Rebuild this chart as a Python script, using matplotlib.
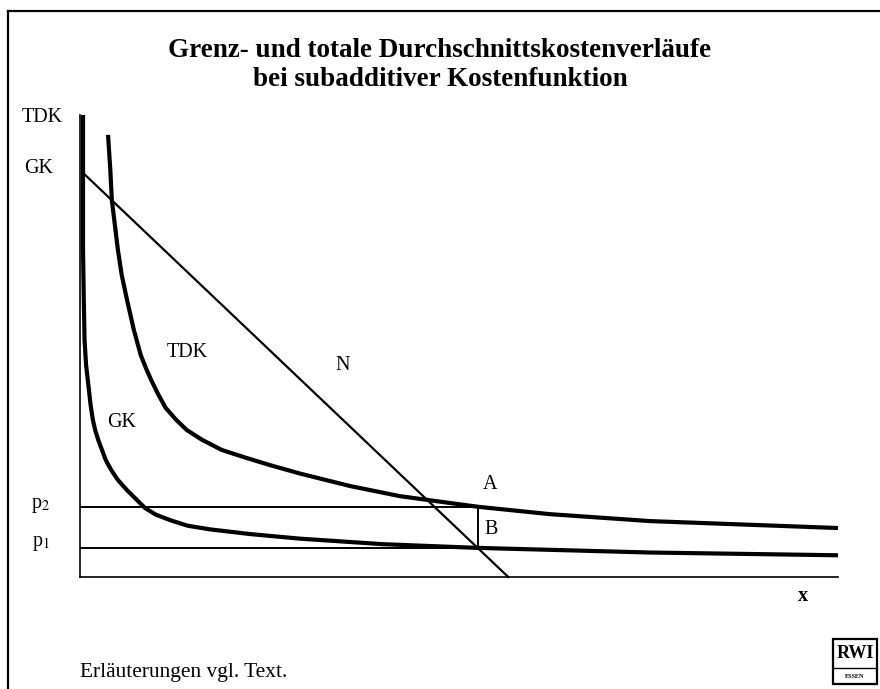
import matplotlib
matplotlib.use("Agg")
from matplotlib import pyplot as plt
from matplotlib.lines import Line2D
from matplotlib.patches import Rectangle

plt.rcParams['font.family'] = ['Liberation Serif', 'DejaVu Serif']
plt.rcParams['mathtext.fontset'] = 'stix'

# Grenzkosten GK (Menge x, Kosten), Achsen jeweils 0..10
gk_x = [0.04, 0.04, 0.05, 0.06, 0.08, 0.11, 0.14, 0.17, 0.20, 0.24, 0.29,
        0.34, 0.41, 0.50, 0.62, 0.86, 1.00, 1.19, 1.42, 1.72, 2.24, 2.90,
        4.00, 5.25, 7.52, 10.0]
gk_y = [10.0, 7.08, 6.00, 5.13, 4.59, 4.16, 3.72, 3.40, 3.18, 2.97, 2.75,
        2.53, 2.32, 2.10, 1.88, 1.49, 1.35, 1.23, 1.11, 1.03, 0.93, 0.83,
        0.71, 0.63, 0.53, 0.47]

# totale Durchschnittskosten TDK
tdk_x = [0.37, 0.40, 0.42, 0.46, 0.50, 0.55, 0.62, 0.71, 0.80, 0.87, 0.94,
         1.03, 1.13, 1.27, 1.41, 1.61, 1.87, 2.19, 2.51, 2.90, 3.56, 4.22,
         4.62, 5.25, 6.20, 7.52, 10.0]
tdk_y = [9.57, 8.81, 8.16, 7.62, 7.08, 6.54, 6.00, 5.35, 4.81, 4.52, 4.26,
         3.96, 3.66, 3.40, 3.18, 2.97, 2.75, 2.58, 2.42, 2.24, 1.97, 1.75,
         1.66, 1.52, 1.36, 1.21, 1.06]

# Nachfragegerade N
n_x = [0.07, 5.65]
n_y = [8.70, 0.0]

# Menge im Punkt A/B und die Preise p1, p2
x_b = 5.25
p1 = 0.63
p2 = 1.52

W, H = 880, 689
fig = plt.figure(figsize=(W / 100, H / 100), dpi=100)
ax = fig.add_axes([80 / W, 1 - 577 / H, 758 / W, 462 / H])
ax.set_xlim(0, 10)
ax.set_ylim(0, 10)
ax.axis('off')

# Achsen
ax.plot([0, 0], [0, 10], color='black', lw=1.2, clip_on=False)
ax.plot([0, 10], [0, 0], color='black', lw=1.2, clip_on=False)

# Preislinien und Strecke AB
ax.plot([0, x_b], [p2, p2], color='black', lw=1.4)
ax.plot([0, x_b], [p1, p1], color='black', lw=1.4)
ax.plot([x_b, x_b], [p1, p2], color='black', lw=1.4)

ax.plot(n_x, n_y, color='black', lw=1.6, clip_on=False)
ax.plot(tdk_x, tdk_y, color='black', lw=3.0, solid_capstyle='butt',
        solid_joinstyle='round', clip_on=False)
ax.plot(gk_x, gk_y, color='black', lw=3.0, solid_capstyle='butt',
        solid_joinstyle='round', clip_on=False)

fs = 14.5
ax.text(-0.50, 9.94, 'TDK', fontsize=fs, ha='center', va='center')
ax.text(-0.55, 8.85, 'GK', fontsize=fs, ha='center', va='center')
ax.text(-0.52, p2 + 0.02, r'p$_2$', fontsize=fs, ha='center', va='center')
ax.text(-0.52, p1 + 0.1, r'p$_1$', fontsize=fs, ha='center', va='center')
ax.text(1.41, 4.87, 'TDK', fontsize=fs, ha='center', va='center')
ax.text(0.55, 3.35, 'GK', fontsize=fs, ha='center', va='center')
ax.text(3.46, 4.57, 'N', fontsize=fs, ha='center', va='center')
ax.text(5.41, 2.01, 'A', fontsize=fs, ha='center', va='center')
ax.text(5.42, 1.02, 'B', fontsize=fs, ha='center', va='center')
ax.text(9.54, -0.41, 'x', fontsize=fs, ha='center', va='center', weight='bold')

# Titel
fig.text(0.5, 1 - 57 / H, 'Grenz- und totale Durchschnittskostenverläufe',
         fontsize=19.5, weight='bold', ha='center', va='baseline')
fig.text(0.5, 1 - 86 / H, 'bei subadditiver Kostenfunktion',
         fontsize=19.5, weight='bold', ha='center', va='baseline')

fig.text(80 / W, 1 - 677 / H, 'Erläuterungen vgl. Text.', fontsize=15.4,
         ha='left', va='baseline')

# Rahmen
fig.add_artist(Line2D([8 / W, 1.0], [1 - 11 / H, 1 - 11 / H], color='black', lw=1.6))
fig.add_artist(Line2D([8 / W, 8 / W], [0.0, 1 - 11 / H], color='black', lw=1.6))

# Logo
fig.add_artist(Rectangle((833 / W, 1 - 684 / H), 44 / W, 45 / H, fill=False,
                         edgecolor='black', lw=1.6))
fig.add_artist(Line2D([833 / W, 877 / W], [1 - 668 / H, 1 - 668 / H], color='black', lw=1.0))
fig.text(855 / W, 1 - 653 / H, 'RWI', fontsize=13, weight='bold', ha='center',
         va='center')
fig.text(855 / W, 1 - 676 / H, 'ESSEN', fontsize=4.5, weight='bold', ha='center',
         va='center')

plt.savefig('out.png', dpi=100)
